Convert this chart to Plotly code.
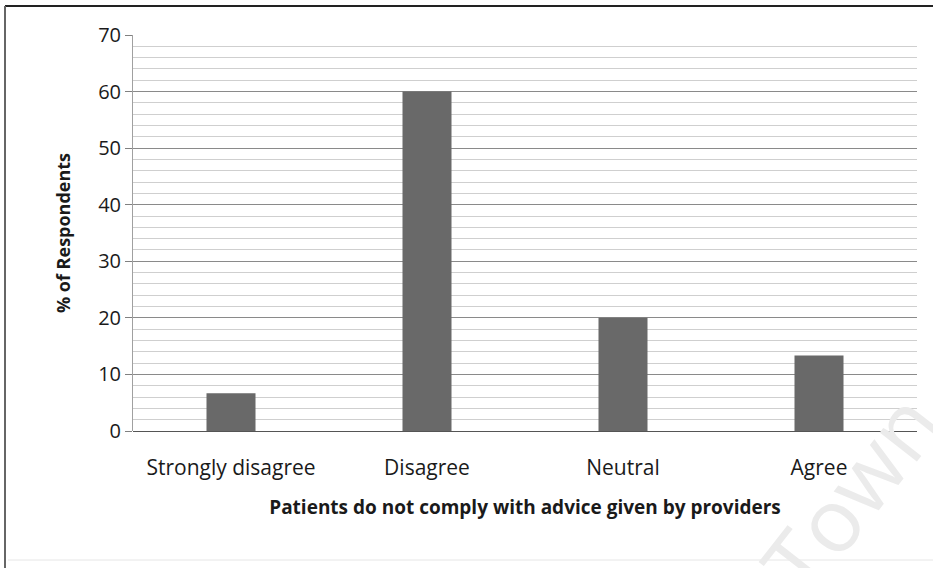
import plotly.graph_objects as go

categories = ["Strongly disagree", "Disagree", "Neutral", "Agree"]
percent = [6.67, 60.0, 20.0, 13.33]
y_ticks = [0, 10, 20, 30, 40, 50, 60, 70]

# plot area in pixels: x 133..917, y 35..431
PW, PH = 784, 396


def px(x):
    return (x - 133) / PW


def py(y):
    return (431 - y) / PH


fig = go.Figure()

fig.add_trace(go.Bar(
    x=categories,
    y=percent,
    marker={'color': '#696969', 'line': {'width': 0}},
    width=0.25,
))

fig.update_layout(
    width=933,
    height=568,
    paper_bgcolor='white',
    plot_bgcolor='white',
    showlegend=False,
    font={'family': 'Open Sans, sans-serif', 'color': '#1a1a1a', 'size': 20},
    margin={'l': 133, 'r': 16, 't': 35, 'b': 137},
    shapes=[
        dict(type='line', xref='paper', yref='paper',
             x0=px(5), x1=px(933), y0=py(6), y1=py(6),
             line={'color': '#222222', 'width': 2}),
        dict(type='line', xref='paper', yref='paper',
             x0=px(5), x1=px(5), y0=py(6), y1=py(568),
             line={'color': '#666666', 'width': 2}),
        dict(type='line', xref='paper', yref='paper',
             x0=px(8), x1=px(933), y0=py(560), y1=py(560),
             line={'color': '#e6e6e6', 'width': 1}),
    ],
    annotations=[dict(
        text='Town', xref='paper', yref='paper',
        x=px(850), y=py(492), xanchor='center', yanchor='middle',
        showarrow=False, textangle=-52,
        font={'size': 88, 'color': '#ebebeb', 'family': 'Open Sans, sans-serif'},
    )],
)

fig.update_xaxes(
    automargin=False,
    showgrid=False,
    showline=False,
    ticks='',
    ticklabelstandoff=22,
    tickfont={'size': 21},
    title={'text': '<b>Patients do not comply with advice given by providers</b>',
           'font': {'size': 19}, 'standoff': 20},
)

fig.update_yaxes(
    automargin=False,
    range=[0, 70],
    tickvals=y_ticks,
    ticks='outside',
    ticklen=7,
    tickcolor='#808080',
    showline=True,
    linecolor='#a0a0a0',
    linewidth=1,
    showgrid=True,
    gridcolor='#8a8a8a',
    gridwidth=1,
    zeroline=True,
    zerolinecolor='#555555',
    zerolinewidth=1,
    minor={'dtick': 2, 'showgrid': True, 'gridcolor': '#cfcfcf', 'gridwidth': 1},
    title={'text': '<b>% of Respondents</b>', 'font': {'size': 18}, 'standoff': 22},
)

fig.write_html("out.html", config={'displayModeBar': False},
               post_script="document.body.style.margin='0';")
